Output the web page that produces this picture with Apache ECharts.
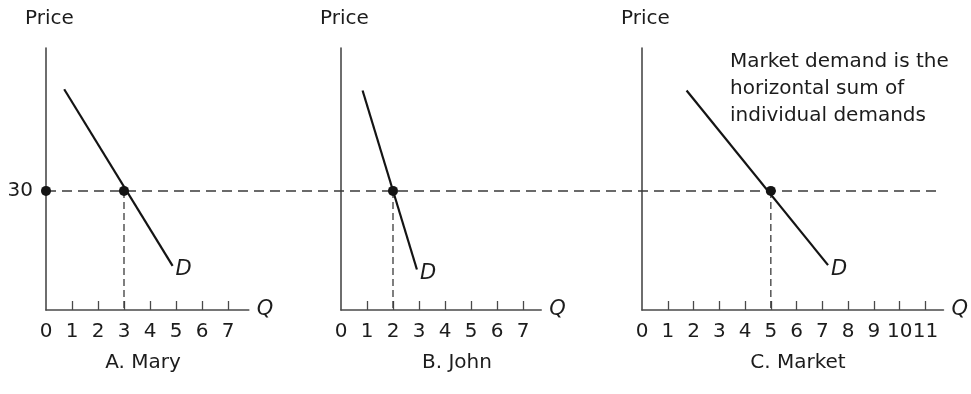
<!DOCTYPE html>
<html><head><meta charset="utf-8">
<script src="https://cdn.jsdelivr.net/npm/echarts@6/dist/echarts.min.js"></script>
<style>html,body{margin:0;padding:0;background:#fff}#c{width:971px;height:394px}</style>
</head><body><div id="c"></div>
<script>
// ---- data ----
const priceLevel = 30;
const priceMax = 66;
const maryDemandQ = [0.7, 4.87];
const maryDemandP = [55.6, 11.1];
const johnDemandQ = [0.83, 2.92];
const johnDemandP = [55.3, 10.2];
const marketDemandQ = [1.73, 7.22];
const marketDemandP = [55.3, 11.3];
const maryQuantity = 3;
const johnQuantity = 2;
const marketQuantity = 5;
const individualTickLabels = [0, 1, 2, 3, 4, 5, 6, 7];
const marketTickLabels = [0, 1, 2, 3, 4, 5, 6, 7, 8, 9, 10, 11];
const priceTickLabels = [30];
const panelTitles = ['A. Mary', 'B. John', 'C. Market'];
const noteLines = ['Market demand is the', 'horizontal sum of', 'individual demands'];

// ---- layout ----
const FONT = 'DejaVu Sans';
const FS = 20;
const TOP = 48, H = 262, UNIT = 26;
const AX = '#4a4a4a', INK = '#141414', TXT = '#1c1c1c';
const panels = [
  { left: 46, max: 7.8, ticks: individualTickLabels, q: maryDemandQ, p: maryDemandP, eq: maryQuantity, title: panelTitles[0], titleX: 143, priceLabels: priceTickLabels },
  { left: 341, max: 7.7, ticks: individualTickLabels, q: johnDemandQ, p: johnDemandP, eq: johnQuantity, title: panelTitles[1], titleX: 457, priceLabels: [] },
  { left: 642, max: 11.7, ticks: marketTickLabels, q: marketDemandQ, p: marketDemandP, eq: marketQuantity, title: panelTitles[2], titleX: 798, priceLabels: [] }
];

const grid = [], xAxis = [], yAxis = [], series = [], graphic = [];
panels.forEach((pn, i) => {
  grid.push({ left: pn.left, top: TOP, width: pn.max * UNIT, height: H });
  xAxis.push({
    gridIndex: i, type: 'value', min: 0, max: pn.max,
    axisLine: { show: true, lineStyle: { color: AX, width: 1.6 } },
    axisTick: { show: true, inside: true, length: 9, customValues: pn.ticks.filter(v => v > 0), lineStyle: { color: AX, width: 1.3 } },
    axisLabel: { show: true, customValues: pn.ticks, margin: 12, fontFamily: FONT, fontSize: FS, color: TXT },
    splitLine: { show: false },
    name: 'Q', nameLocation: 'end', nameGap: 8,
    nameTextStyle: { fontFamily: FONT, fontSize: FS + 1, fontStyle: 'italic', color: TXT }
  });
  yAxis.push({
    gridIndex: i, type: 'value', min: 0, max: priceMax,
    axisLine: { show: true, lineStyle: { color: AX, width: 1.6 } },
    axisTick: { show: false },
    axisLabel: { show: pn.priceLabels.length > 0, customValues: pn.priceLabels, margin: 13, fontFamily: FONT, fontSize: FS, color: TXT },
    splitLine: { show: false }
  });
  // vertical dashed line from equilibrium to Q axis
  series.push({
    type: 'line', xAxisIndex: i, yAxisIndex: i, symbol: 'none', silent: true, z: 2,
    lineStyle: { color: '#3a3a3a', width: 1.3, type: [7, 4] },
    data: [[pn.eq, priceLevel], [pn.eq, 0]]
  });
  // demand curve
  series.push({
    type: 'line', xAxisIndex: i, yAxisIndex: i, symbol: 'none', silent: true, z: 3,
    lineStyle: { color: INK, width: 2.2 },
    data: pn.q.map((q, k) => [q, pn.p[k]]),
    endLabel: { show: true, formatter: 'D', distance: 3, offset: [0, 4], fontFamily: FONT, fontSize: FS + 1, fontStyle: 'italic', color: TXT }
  });
  // equilibrium dot(s)
  const dots = [[pn.eq, priceLevel]];
  if (i === 0) dots.unshift([0, priceLevel]);
  series.push({
    type: 'scatter', xAxisIndex: i, yAxisIndex: i, symbolSize: 10, silent: true, z: 5,
    itemStyle: { color: INK, opacity: 1 }, data: dots
  });
  graphic.push({ type: 'text', x: pn.left - 21, y: 19, style: { text: 'Price', font: `${FS}px "${FONT}"`, fill: TXT, verticalAlign: 'middle', align: 'left' } });
  graphic.push({ type: 'text', x: pn.titleX, y: 363, style: { text: pn.title, font: `${FS}px "${FONT}"`, fill: TXT, verticalAlign: 'middle', align: 'center' } });
});

// overlay grid for the common price line across all panels
grid.push({ left: 46, top: TOP, width: 892, height: H });
xAxis.push({ gridIndex: 3, type: 'value', min: 0, max: 1, show: false });
yAxis.push({ gridIndex: 3, type: 'value', min: 0, max: priceMax, show: false });
series.push({
  type: 'line', xAxisIndex: 3, yAxisIndex: 3, symbol: 'none', silent: true, z: 1,
  lineStyle: { color: '#3a3a3a', width: 1.5, type: [10, 6] },
  data: [[0, priceLevel], [1, priceLevel]]
});

noteLines.forEach((t, k) => {
  graphic.push({ type: 'text', x: 730, y: 62 + k * 27, style: { text: t, font: `${FS}px "${FONT}"`, fill: TXT, verticalAlign: 'middle', align: 'left' } });
});

const chart = echarts.init(document.getElementById('c'), null, { renderer: 'canvas' });
chart.setOption({ animation: false, backgroundColor: '#fff', grid, xAxis, yAxis, series, graphic });
</script>
</body></html>
